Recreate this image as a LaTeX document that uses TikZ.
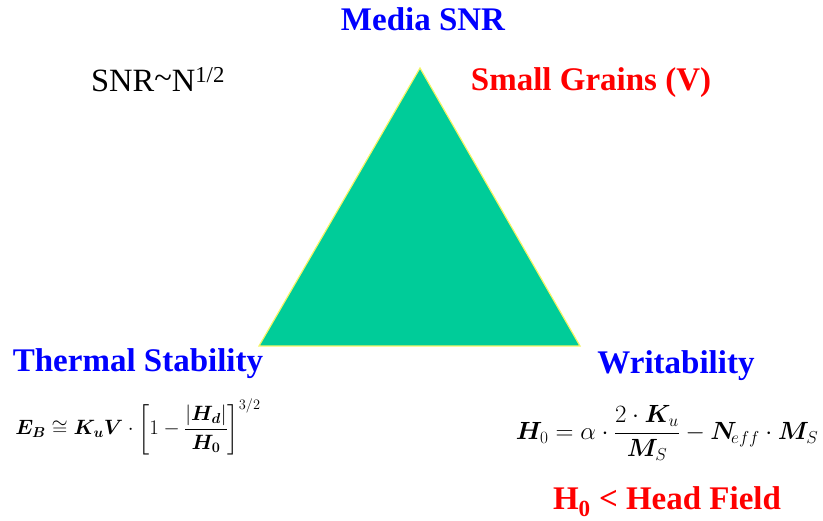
\documentclass[tikz,border=0pt]{standalone}
\usepackage{amsmath}
\usepackage{amssymb}
\usepackage{bm}
\usepackage{fontspec}
\setmainfont{Liberation Serif}
\usepackage{xcolor}
\usetikzlibrary{positioning}

\definecolor{triGreen}{HTML}{00CC99}
\definecolor{edgeYellow}{HTML}{F5F566}

\tikzset{
  corner/.style={font=\fontsize{33}{36}\selectfont\bfseries, text=blue, inner sep=0pt},
  redlabel/.style={font=\fontsize{33}{36}\selectfont\bfseries, text=red, inner sep=0pt},
  formula/.style={inner sep=0pt}
}

\begin{document}
\begin{tikzpicture}[x=1pt, y=-1pt]
\useasboundingbox (0,0) rectangle (823,521);
% triangle
\coordinate (top) at (420,68);
\coordinate (left) at (259,346);
\coordinate (right) at (580,346);
\fill[triGreen, draw=edgeYellow, line width=1.2pt, line join=miter] (top) -- (left) -- (right) -- cycle;

% the three corners
\node[corner] (snr) at (423,19) {Media SNR};
\node[corner] (thermal) at (138,364) {Thermal Stability};
\node[corner] (write) at (676,366) {Writability};

\node[redlabel] (grains) at (591,83) {Small Grains (V)};
\node[inner sep=0pt, font=\fontsize{32.5}{35}\selectfont] (scaling) at (158,80) {SNR\raisebox{0.1em}{\char`\~}N\textsuperscript{1/2}};

% formulas
\node[formula, font=\fontsize{21}{24}\selectfont] (eb) at (138,427)
  {$\bm{E_B} \cong \bm{K_u V}\cdot\left[1-\dfrac{\left|\bm{H_d}\right|}{\bm{H_0}}\right]^{3/2}$};
\node[formula, font=\fontsize{24.5}{28}\selectfont] (hzero) at (667,433)
  {$\bm{H}_0 = \alpha\cdot\dfrac{2\cdot\bm{K}_u}{\bm{M}_S}-\bm{N}_{\!eff}\cdot\bm{M}_S$};
\node[redlabel, below=26pt of hzero] (head) {H\textsubscript{0} < Head Field};
\end{tikzpicture}
\end{document}
